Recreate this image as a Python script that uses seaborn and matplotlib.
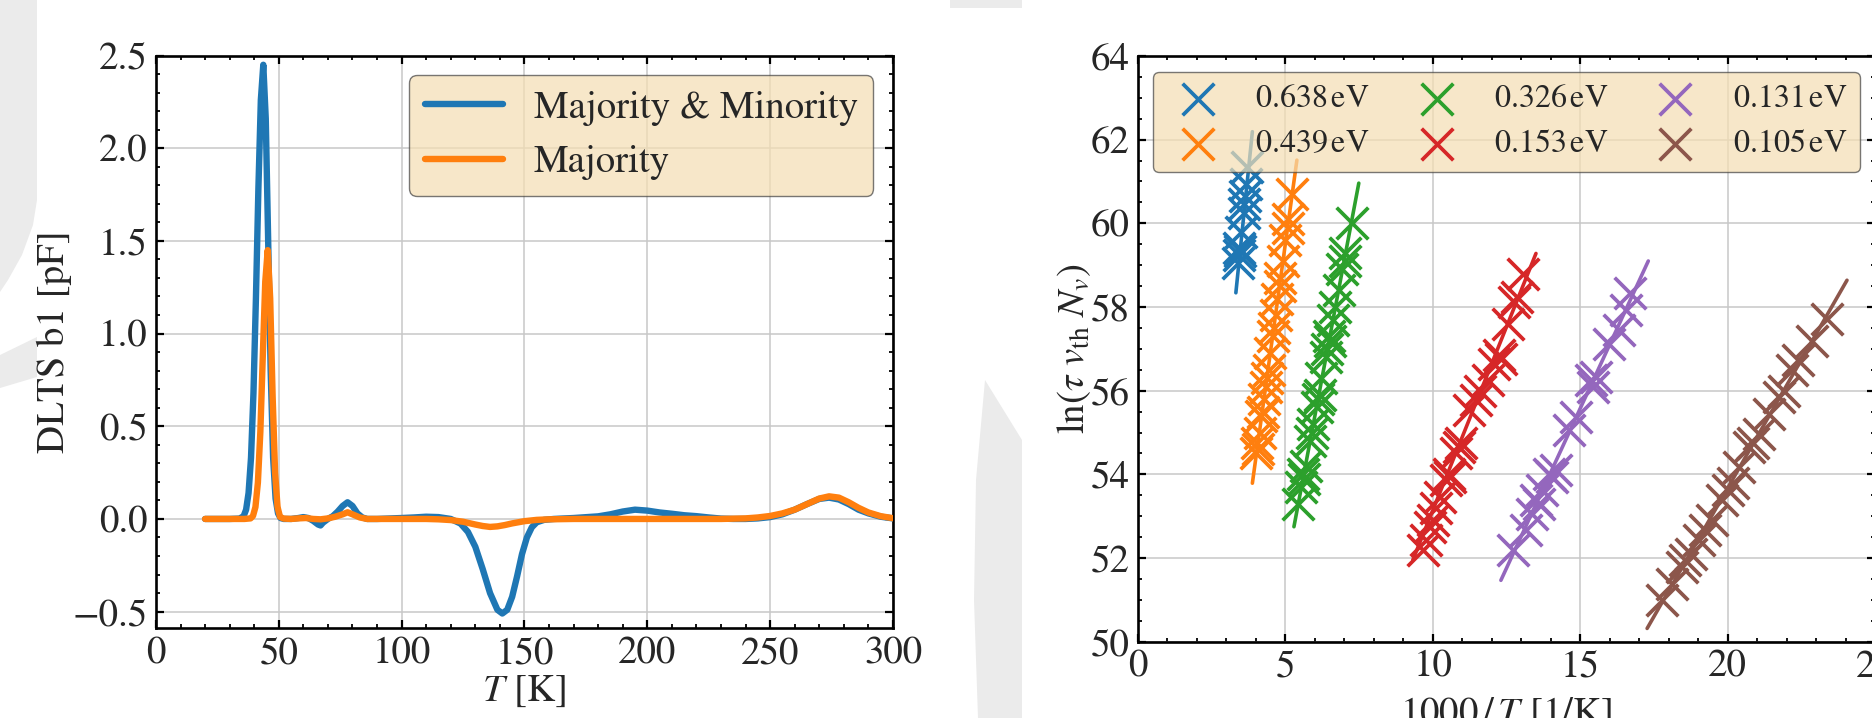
import numpy as np
import pandas as pd
import matplotlib
matplotlib.use("Agg")
import matplotlib.pyplot as plt
import seaborn as sns
from matplotlib.patches import Polygon
from matplotlib.ticker import MultipleLocator

# ---------------- Left panel: DLTS spectra ----------------
T_both = [20, 30, 34, 35.7, 36.7, 37.7, 38.7, 39.7, 40.7, 41.7, 42.7, 43.7, 44.7, 45.7,
          46.7, 47.7, 48.7, 49.7, 50.7, 52, 55, 58, 60, 62, 64, 66, 67, 68, 70, 72, 74,
          76, 78, 80, 82, 84, 86, 90, 100, 105, 110, 115, 120, 124, 127, 130, 133, 136,
          139, 141, 143, 145, 147, 149, 151, 153, 155, 158, 162, 170, 180, 185, 190, 195,
          200, 205, 210, 215, 220, 225, 230, 235, 240, 245, 250, 255, 260, 265, 270, 274,
          278, 282, 286, 290, 295, 300]
dlts_both = [0, 0, 0.002, 0.015, 0.05, 0.14, 0.33, 0.68, 1.19, 1.78, 2.26, 2.45, 2.16, 1.49,
             0.80, 0.33, 0.11, 0.03, 0.005, 0.0, 0.0, 0.005, 0.01, 0.005, -0.01, -0.03, -0.035,
             -0.02, 0.0, 0.015, 0.04, 0.07, 0.09, 0.07, 0.03, 0.008, 0.0, 0.0, 0.005, 0.008,
             0.012, 0.01, 0.0, -0.025, -0.07, -0.15, -0.27, -0.40, -0.49, -0.51, -0.49, -0.42,
             -0.31, -0.19, -0.10, -0.045, -0.018, -0.005, 0.0, 0.005, 0.014, 0.025, 0.04,
             0.05, 0.045, 0.035, 0.028, 0.02, 0.015, 0.008, 0.002, 0.0, 0.0, 0.003, 0.01,
             0.025, 0.05, 0.08, 0.108, 0.115, 0.105, 0.08, 0.05, 0.03, 0.012, 0.003]

T_major = [20, 30, 36, 38.5, 39.5, 40.5, 41.5, 42.5, 43.5, 44.5, 45.5, 46.5, 47.5, 48.5,
           49.5, 50.5, 52, 55, 58, 61, 64, 67, 70, 73, 76, 78, 80, 83, 86, 90, 100, 110,
           115, 120, 125, 130, 133, 136, 139, 142, 145, 150, 155, 160, 170, 180, 190, 200,
           210, 220, 230, 240, 245, 250, 255, 260, 265, 270, 274, 278, 282, 286, 290, 295, 300]
dlts_major = [0, 0, 0.0, 0.003, 0.016, 0.064, 0.196, 0.47, 0.88, 1.28, 1.45, 1.19, 0.66,
              0.25, 0.064, 0.011, 0.002, 0.0, 0.003, 0.005, 0.0, -0.002, 0.003, 0.012, 0.025,
              0.036, 0.025, 0.008, 0.0, 0.0, 0.0, 0.0, -0.002, -0.006, -0.015, -0.03, -0.038,
              -0.043, -0.04, -0.033, -0.024, -0.012, -0.005, -0.002, 0.0, 0.0, 0.0, 0.0, 0.0,
              0.0, 0.0, 0.003, 0.008, 0.016, 0.03, 0.05, 0.08, 0.11, 0.122, 0.115, 0.09, 0.06,
              0.035, 0.015, 0.004]

left_labels = ["Majority & Minority", "Majority"]

# ---------------- Right panel: Arrhenius plots ----------------
energies = ["0.638", "0.439", "0.326", "0.153", "0.131", "0.105"]

x_0638 = [3.38, 3.44, 3.47, 3.43, 3.50, 3.58, 3.60, 3.63, 3.66, 3.70]
y_0638 = [59.05, 59.25, 59.35, 59.40, 59.80, 60.25, 60.45, 60.65, 60.95, 61.35]

x_0439 = [4.00, 4.06, 4.05, 4.14, 4.18, 4.24, 4.26, 4.35, 4.36, 4.43, 4.47, 4.59, 4.60,
          4.68, 4.73, 4.82, 4.83, 4.93, 5.00, 5.09, 5.10, 5.24]
y_0439 = [54.5, 54.6, 54.75, 55.0, 55.4, 55.5, 55.8, 56.1, 56.3, 56.5, 56.9, 57.3, 57.5,
          57.8, 58.2, 58.5, 58.7, 59.1, 59.6, 59.9, 60.1, 60.7]

x_0326 = [5.44, 5.52, 5.62, 5.60, 5.70, 5.82, 5.91, 5.93, 6.07, 6.09, 6.16, 6.22, 6.39,
          6.41, 6.50, 6.49, 6.63, 6.68, 6.82, 6.92, 7.01, 7.03, 7.25]
y_0326 = [53.3, 53.7, 53.9, 54.0, 54.2, 54.8, 55.0, 55.2, 55.6, 55.8, 55.9, 56.3, 56.8,
          57.0, 57.2, 57.3, 57.7, 58.0, 58.4, 58.9, 59.1, 59.3, 60.0]

x_0153 = [9.66, 9.77, 9.89, 10.00, 10.10, 10.23, 10.45, 10.56, 10.60, 10.79, 10.90, 10.95,
          11.24, 11.47, 11.60, 11.86, 12.09, 12.25, 12.30, 12.55, 12.75, 12.85, 13.06]
y_0153 = [52.19, 52.43, 52.75, 52.90, 53.20, 53.46, 53.86, 54.02, 53.95, 54.50, 54.66, 54.75,
          55.53, 55.77, 56.00, 56.25, 56.65, 56.85, 56.75, 57.60, 58.12, 58.25, 58.78]

x_0131 = [12.71, 13.16, 13.38, 13.49, 13.60, 13.72, 13.95, 14.05, 14.17, 14.62, 14.85,
          15.36, 15.45, 15.52, 15.98, 16.31, 16.54, 16.70]
y_0131 = [52.19, 52.67, 53.06, 53.38, 53.30, 53.62, 54.02, 53.95, 54.10, 55.05, 55.37,
          56.25, 56.10, 56.33, 57.12, 57.44, 57.92, 58.34]

x_0105 = [17.78, 18.12, 18.46, 18.57, 18.75, 19.02, 19.24, 19.47, 19.81, 20.03, 20.20,
          20.37, 20.71, 20.85, 21.05, 21.39, 21.73, 21.90, 22.18, 22.40, 22.85, 23.36]
y_0105 = [50.99, 51.39, 51.79, 51.95, 52.10, 52.43, 52.67, 52.90, 53.38, 53.62, 53.80,
          54.18, 54.66, 54.75, 54.97, 55.45, 55.85, 56.00, 56.49, 56.73, 57.20, 57.72]

fit_x_start = [3.32, 3.88, 5.29, 9.32, 12.31, 17.27]
fit_x_end = [3.88, 5.39, 7.49, 13.50, 17.31, 24.05]
fit_y_start = [58.34, 53.79, 52.75, 51.95, 51.47, 50.32]
fit_y_end = [62.19, 61.51, 60.96, 59.28, 59.10, 58.64]

xs_all = [x_0638, x_0439, x_0326, x_0153, x_0131, x_0105]
ys_all = [y_0638, y_0439, y_0326, y_0153, y_0131, y_0105]

# ---------------- Style ----------------
sns.set_style("ticks")
plt.rcParams["font.family"] = ["STIXGeneral", "Liberation Serif", "DejaVu Serif"]
plt.rcParams["mathtext.fontset"] = "stix"
plt.rcParams["axes.unicode_minus"] = True

colors = sns.color_palette("tab10", 6)

fig = plt.figure(figsize=(18.72, 7.18), dpi=100)
fig.patch.set_facecolor("white")

# light grey background decoration
def px_poly(pts):
    return [(x / 1872.0, 1 - y / 718.0) for x, y in pts]

deco_grey = "#ebebeb"
for pts in [
    [(0, 0), (37, 0), (37, 200), (33, 225), (22, 255), (8, 280), (0, 292)],
    [(0, 355), (37, 337), (37, 377), (0, 388)],
    [(985, 380), (1022, 440), (1022, 718), (978, 718), (974, 600), (976, 480)],
    [(950, 0), (1022, 0), (1022, 8), (950, 8)],
]:
    fig.add_artist(Polygon(px_poly(pts), closed=True, transform=fig.transFigure,
                           facecolor=deco_grey, edgecolor="none", zorder=-5))

tick_fs = 28
label_fs = 28

def style_axes(ax):
    for sp in ax.spines.values():
        sp.set_linewidth(1.9)
        sp.set_color("black")
    ax.tick_params(which="both", direction="in", top=True, right=True,
                   labelsize=tick_fs, color="black")
    ax.tick_params(which="major", length=5.5, width=1.6, pad=6)
    ax.tick_params(which="minor", length=3, width=1.3)
    ax.grid(True, which="major", color="#c8c8c8", linewidth=1.1)
    ax.set_axisbelow(True)

# ---------------- Left axes ----------------
ax1 = fig.add_axes([0.0833, 0.1249, 0.3937, 0.7978])
df_b = pd.DataFrame({"T": T_both, "v": dlts_both})
df_o = pd.DataFrame({"T": T_major, "v": dlts_major})
sns.lineplot(data=df_b, x="T", y="v", ax=ax1, color=colors[0], linewidth=4.6,
             label=left_labels[0], zorder=3)
sns.lineplot(data=df_o, x="T", y="v", ax=ax1, color=colors[1], linewidth=4.6,
             label=left_labels[1], zorder=4)
ax1.set_xlim(0, 300)
ax1.set_ylim(-0.59, 2.5)
ax1.xaxis.set_major_locator(MultipleLocator(50))
ax1.xaxis.set_minor_locator(MultipleLocator(10))
ax1.yaxis.set_major_locator(MultipleLocator(0.5))
ax1.yaxis.set_minor_locator(MultipleLocator(0.1))
style_axes(ax1)
ax1.set_xlabel(r"$T$ [K]", fontsize=label_fs, labelpad=2)
ax1.set_ylabel("DLTS b1 [pF]", fontsize=label_fs, labelpad=0)
leg1 = ax1.legend(loc="upper right", fontsize=28, frameon=True, fancybox=True,
                  facecolor="wheat", edgecolor="0.25", framealpha=0.7,
                  handlelength=2.0, handletextpad=0.8)
leg1.get_frame().set_linewidth(1.0)

# ---------------- Right axes ----------------
ax2 = fig.add_axes([0.6079, 0.1061, 0.3937, 0.8160])
for i, e in enumerate(energies):
    dfp = pd.DataFrame({"x": xs_all[i], "y": ys_all[i]})
    sns.scatterplot(data=dfp, x="x", y="y", ax=ax2, marker="x", s=520,
                    linewidth=2.7, color=colors[i], label=rf"${e}\,\mathrm{{eV}}$",
                    zorder=3)
    dfl = pd.DataFrame({"x": [fit_x_start[i], fit_x_end[i]],
                        "y": [fit_y_start[i], fit_y_end[i]]})
    sns.lineplot(data=dfl, x="x", y="y", ax=ax2, color=colors[i], linewidth=2.6,
                 zorder=3, legend=False)
ax2.set_xlim(0, 25)
ax2.set_ylim(50, 64)
ax2.xaxis.set_major_locator(MultipleLocator(5))
ax2.xaxis.set_minor_locator(MultipleLocator(1))
ax2.yaxis.set_major_locator(MultipleLocator(2))
ax2.yaxis.set_minor_locator(MultipleLocator(0.5))
style_axes(ax2)
ax2.set_xlabel(r"$1000\,/\,T$ [1/K]", fontsize=label_fs, labelpad=8)
ax2.set_ylabel(r"$\ln(\tau\ v_{\mathrm{th}}\ N_v)$", fontsize=label_fs, labelpad=-2)
h, l = ax2.get_legend_handles_labels()
leg2 = ax2.legend(h[:6], l[:6], loc="upper center", ncol=3, fontsize=23,
                  frameon=True, fancybox=True, facecolor="wheat", edgecolor="0.25",
                  framealpha=0.7, handlelength=2.0, handletextpad=0.8,
                  columnspacing=1.1, scatterpoints=1, borderaxespad=0.5)
leg2.get_frame().set_linewidth(1.0)

fig.savefig("out.png", dpi=100)
